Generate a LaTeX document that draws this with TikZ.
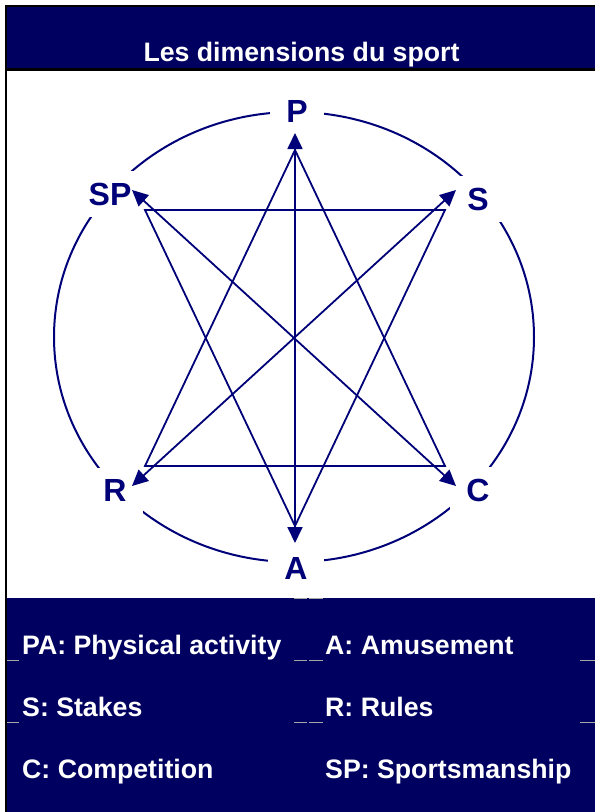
\documentclass[tikz,border=0pt]{standalone}
\usepackage{fontspec}
\setmainfont{Liberation Sans}
\usetikzlibrary{arrows.meta}
\definecolor{mynavy}{HTML}{000060}
\definecolor{myblue}{HTML}{000078}
\tikzset{
	labelnode/.style={
			font=\fontsize{32}{36}\selectfont\bfseries,
			text=myblue,
			fill=white,
			inner xsep=16pt,
			inner ysep=12pt
		},
	legendnode/.style={
			font=\fontsize{26.7}{30}\selectfont\bfseries,
			text=white,
			anchor=base west,
			inner sep=0pt
		},
	linkline/.style={
			draw=myblue,
			line width=1.8pt
		},
	tipline/.style={
			linkline,
			{Triangle[length=16pt,width=15pt]}-{Triangle[length=16pt,width=15pt]}
		},
	gridtick/.style={
			draw=gray!70,
			line width=1pt
		}
}

\begin{document}
\begin{tikzpicture}[x=1pt, y=-1pt]
\useasboundingbox (0,0) rectangle (595,812);
\fill[white] (0,0) rectangle (595,812);
\fill[mynavy] (6,6) rectangle (595,69);
\fill[mynavy] (6,598) rectangle (595,812);
\draw[black, line width=2pt] (6,812) -- (6,6) -- (595,6);
\draw[black, line width=3pt] (6,69.5) -- (595,69.5);

\node[legendnode, anchor=base] (title) at (301.5,61) {Les dimensions du sport};

\draw[linkline, line width=2pt] (294,337) ellipse [x radius=240, y radius=225];

\node[labelnode] (p) at (297,111) {P};
\node[labelnode] (s) at (478,199) {S};
\node[labelnode] (c) at (478,490.5) {C};
\node[labelnode] (a) at (296,568.5) {A};
\node[labelnode] (r) at (115,490.5) {R};
\node[labelnode] (sp) at (110,194) {SP};

\coordinate (v1) at (295,150);
\coordinate (v2) at (145,466);
\coordinate (v3) at (445,466);
\coordinate (v4) at (145,210);
\coordinate (v5) at (445,210);
\coordinate (v6) at (295,526);

\coordinate (tp) at (295,133);
\coordinate (ta) at (295,543);
\coordinate (tsp) at (132,190);
\coordinate (tc) at (456,486);
\coordinate (ts) at (456,190);
\coordinate (tr) at (132,486);

\draw[linkline] (v1) -- (v2) -- (v3) -- cycle;
\draw[linkline] (v4) -- (v5) -- (v6) -- cycle;

\draw[tipline] (tp) -- (ta);
\draw[tipline] (tsp) -- (tc);
\draw[tipline] (ts) -- (tr);

\node[legendnode] (pa) at (22,654) {PA: Physical activity};
\node[legendnode] (am) at (325,654) {A: Amusement};
\node[legendnode] (st) at (22,716) {S: Stakes};
\node[legendnode] (ru) at (325,716) {R: Rules};
\node[legendnode] (co) at (22,778) {C: Competition};
\node[legendnode] (sm) at (325,778) {SP: Sportsmanship};

\foreach \y in {660,722} {
  \draw[gridtick] (7,\y) -- (19,\y);
  \draw[gridtick] (294,\y) -- (307,\y);
  \draw[gridtick] (309,\y) -- (323,\y);
  \draw[gridtick] (580,\y) -- (595,\y);
}
\draw[gridtick] (294,598) -- (307,598);
\draw[gridtick] (309,598) -- (323,598);
\end{tikzpicture}
\end{document}
